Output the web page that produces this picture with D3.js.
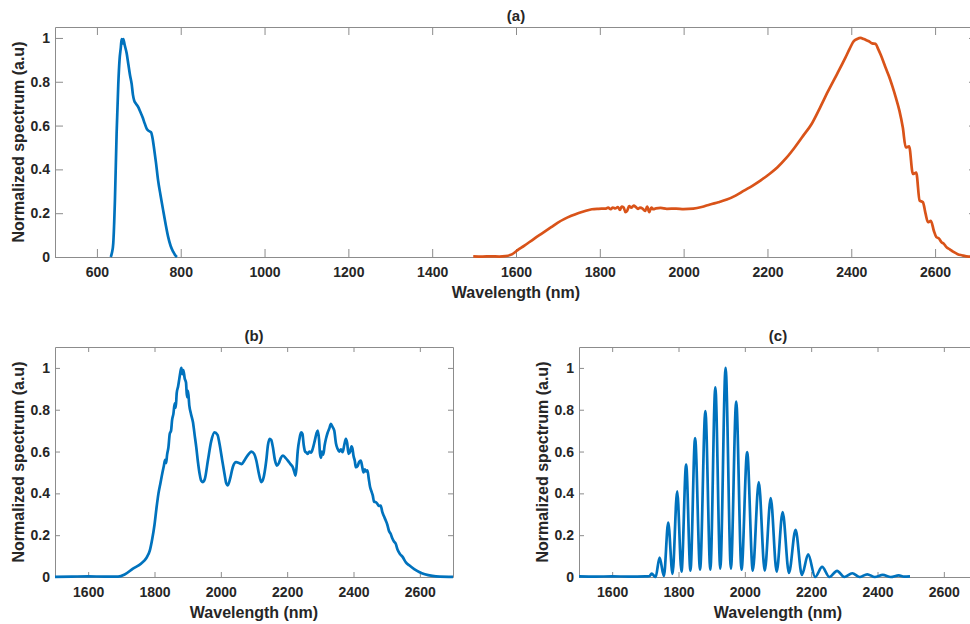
<!DOCTYPE html>
<html>
<head>
<meta charset="utf-8">
<script src="https://cdn.jsdelivr.net/npm/d3@7"></script>
<style>
  html, body { margin: 0; padding: 0; background: #fff; overflow: hidden; }
  svg { display: block; }
  text { font-family: "Liberation Sans", Arial, sans-serif; font-weight: bold; fill: #262626; }
</style>
</head>
<body>
<div id="chart"></div>
<script>
// ---- data: [wavelength nm, normalized value] ----
const pumpSpectrum = [
  [633,0],[636,0.02],[639,0.062],[643,0.259],[647,0.562],[651,0.789],[654,0.9],[657,0.956],
  [659,0.995],[661,0.975],[663,0.995],[666,0.97],[671,0.93],[675,0.88],[679,0.83],[683,0.789],
  [686,0.74],[689,0.714],[693,0.7],[699,0.683],[703,0.665],[709,0.638],[714,0.61],[719,0.585],
  [724,0.575],[729,0.57],[733,0.54],[736,0.501],[741,0.43],[746,0.35],[752,0.28],[758,0.214],
  [764,0.15],[770,0.092],[776,0.05],[782,0.024],[787,0.008],[791,0]
];

const supercontinuumA = [
  [1498,0.003],[1520,0.002],[1540,0.003],[1560,0.002],[1575,0.004],[1590,0.012],[1603,0.03],
  [1620,0.052],[1643,0.083],[1664,0.11],[1684,0.136],[1700,0.157],[1716,0.174],[1732,0.188],
  [1748,0.2],[1765,0.21],[1781,0.218],[1797,0.22],[1813,0.221],[1820,0.225],[1826,0.218],
  [1831,0.226],[1837,0.222],[1843,0.228],[1848,0.215],[1852,0.23],[1857,0.226],[1861,0.205],
  [1865,0.21],[1870,0.232],[1875,0.225],[1881,0.235],[1886,0.228],[1891,0.22],[1896,0.225],
  [1902,0.221],[1908,0.21],[1913,0.23],[1918,0.205],[1923,0.225],[1928,0.218],[1934,0.222],
  [1945,0.224],[1960,0.22],[1982,0.221],[2000,0.219],[2023,0.221],[2043,0.228],[2063,0.24],
  [2083,0.25],[2103,0.262],[2124,0.28],[2144,0.303],[2164,0.325],[2184,0.35],[2204,0.378],
  [2224,0.41],[2245,0.452],[2265,0.5],[2285,0.553],[2305,0.606],[2325,0.68],[2345,0.758],
  [2366,0.835],[2386,0.91],[2396,0.95],[2406,0.985],[2414,0.995],[2422,1.0],[2430,0.995],
  [2436,0.99],[2442,0.985],[2450,0.975],[2458,0.973],[2464,0.95],[2470,0.924],[2476,0.895],
  [2482,0.864],[2490,0.825],[2498,0.78],[2506,0.73],[2515,0.667],[2523,0.591],[2530,0.5],
  [2538,0.505],[2547,0.379],[2555,0.385],[2563,0.258],[2571,0.25],[2577,0.2],[2583,0.159],
  [2590,0.165],[2597,0.12],[2603,0.091],[2609,0.085],[2615,0.068],[2621,0.06],[2627,0.045],
  [2635,0.035],[2644,0.023],[2654,0.013],[2664,0.008],[2680,0.002],[2700,0.001]
];

const spectrumB = [
  [1500,0.001],[1550,0.002],[1600,0.003],[1650,0.002],[1690,0.002],[1710,0.012],[1735,0.04],
  [1760,0.065],[1775,0.09],[1786,0.127],[1793,0.18],[1800,0.25],[1806,0.33],[1812,0.4],
  [1818,0.45],[1824,0.5],[1828,0.53],[1832,0.56],[1835,0.545],[1838,0.585],[1842,0.62],
  [1846,0.685],[1850,0.7],[1853,0.75],[1857,0.78],[1861,0.83],[1864,0.81],[1867,0.88],
  [1871,0.91],[1875,0.95],[1878,0.98],[1881,1.0],[1884,0.97],[1887,0.99],[1891,0.95],
  [1895,0.93],[1898,0.86],[1901,0.89],[1905,0.82],[1910,0.78],[1916,0.74],[1921,0.68],
  [1926,0.62],[1931,0.55],[1936,0.494],[1941,0.46],[1946,0.454],[1952,0.47],[1961,0.557],
  [1971,0.65],[1981,0.692],[1990,0.68],[1996,0.637],[2004,0.56],[2011,0.494],[2016,0.45],
  [2021,0.438],[2028,0.47],[2036,0.525],[2046,0.549],[2055,0.545],[2063,0.54],[2070,0.555],
  [2077,0.573],[2085,0.59],[2092,0.6],[2100,0.59],[2107,0.557],[2114,0.5],[2122,0.454],
  [2128,0.47],[2137,0.557],[2142,0.63],[2147,0.661],[2152,0.655],[2157,0.62],[2163,0.56],
  [2169,0.533],[2175,0.545],[2181,0.57],[2187,0.581],[2195,0.57],[2202,0.557],[2210,0.54],
  [2217,0.525],[2222,0.5],[2225,0.485],[2228,0.52],[2232,0.605],[2237,0.66],[2242,0.692],
  [2246,0.685],[2250,0.63],[2254,0.6],[2258,0.595],[2262,0.589],[2267,0.6],[2272,0.595],
  [2277,0.613],[2283,0.65],[2288,0.685],[2292,0.7],[2296,0.66],[2299,0.59],[2302,0.57],
  [2305,0.6],[2309,0.585],[2313,0.63],[2317,0.661],[2322,0.69],[2327,0.71],[2332,0.733],
  [2336,0.72],[2342,0.7],[2347,0.64],[2352,0.613],[2357,0.6],[2362,0.61],[2367,0.597],
  [2372,0.63],[2377,0.661],[2381,0.64],[2385,0.589],[2390,0.6],[2394,0.625],[2397,0.613],
  [2400,0.58],[2404,0.555],[2407,0.525],[2412,0.53],[2417,0.55],[2422,0.557],[2426,0.53],
  [2430,0.5],[2434,0.515],[2438,0.505],[2442,0.51],[2446,0.47],[2450,0.43],[2454,0.41],
  [2458,0.39],[2462,0.36],[2467,0.358],[2472,0.35],[2477,0.34],[2482,0.342],[2487,0.31],
  [2492,0.29],[2497,0.271],[2502,0.25],[2507,0.22],[2512,0.207],[2517,0.185],[2522,0.17],
  [2527,0.16],[2533,0.13],[2540,0.11],[2548,0.096],[2558,0.07],[2568,0.056],[2583,0.038],
  [2598,0.024],[2615,0.013],[2638,0.005],[2660,0.002],[2700,0.001]
];

const spectrumC = [
  [1500,0.003],[1550,0.002],[1600,0.003],[1650,0.002],[1700,0.003],[1712,0.004],[1719,0.016],
  [1731,0.0],[1743,0.093],[1756,0.005],[1769,0.26],[1782,0.015],[1796,0.41],[1809,0.025],
  [1823,0.538],[1836,0.03],[1850,0.664],[1865,0.035],[1881,0.793],[1896,0.035],[1911,0.907],
  [1926,0.04],[1942,1.0],[1958,0.04],[1974,0.839],[1990,0.035],[2007,0.597],[2024,0.03],
  [2042,0.454],[2060,0.03],[2078,0.377],[2096,0.025],[2114,0.31],[2133,0.02],[2153,0.226],
  [2172,0.01],[2191,0.108],[2212,0.0],[2233,0.048],[2255,0.0],[2278,0.029],[2300,0.0],
  [2324,0.018],[2346,0.0],[2369,0.013],[2392,0.0],[2416,0.01],[2440,0.0],[2464,0.008],
  [2480,0.002],[2498,0.003]
];

const xTicksA = [600, 800, 1000, 1200, 1400, 1600, 1800, 2000, 2200, 2400, 2600];
const xTicksBC = [1600, 1800, 2000, 2200, 2400, 2600];
const yTicks = [0, 0.2, 0.4, 0.6, 0.8, 1];

const blue = "#0072BD";
const orange = "#D95319";
const boxColor = "#8c8c8c";

const svg = d3.select("#chart").append("svg")
  .attr("width", 970)
  .attr("height", 624);

function drawPanel(p) {
  const w = p.right - p.left;
  const h = p.bottom - p.top;
  const g = svg.append("g").attr("transform", `translate(${p.left},${p.top})`);

  const x = d3.scaleLinear().domain(p.xDomain).range([0, w]);
  const y = d3.scaleLinear().domain(p.yDomain).range([h, 0]);

  // box with inward ticks on all four sides
  g.append("g").attr("transform", `translate(0,${h})`)
    .call(d3.axisBottom(x).tickValues(p.xTicks).tickSizeInner(-p.tick).tickSizeOuter(0)
      .tickPadding(10).tickFormat(d3.format("d")));
  g.append("g")
    .call(d3.axisTop(x).tickValues(p.xTicks).tickSizeInner(-p.tick).tickSizeOuter(0).tickFormat(""));
  g.append("g")
    .call(d3.axisLeft(y).tickValues(yTicks).tickSizeInner(-p.tick).tickSizeOuter(0)
      .tickPadding(5).tickFormat(d => String(d)));
  g.append("g").attr("transform", `translate(${w},0)`)
    .call(d3.axisRight(y).tickValues(yTicks).tickSizeInner(-p.tick).tickSizeOuter(0).tickFormat(""));

  g.selectAll(".domain, .tick line").attr("stroke", boxColor).attr("stroke-width", 1);
  g.selectAll(".tick text")
    .attr("fill", "#262626")
    .style("font-size", "14px")
    .style("font-weight", "bold")
    .style("font-family", '"Liberation Sans", Arial, sans-serif');

  const line = d3.line()
    .x(d => x(d[0]))
    .y(d => y(d[1]))
    .curve(d3.curveMonotoneX);

  p.series.forEach(s => {
    g.append("path")
      .datum(s.data)
      .attr("fill", "none")
      .attr("stroke", s.color)
      .attr("stroke-width", 2.7)
      .attr("stroke-linejoin", "round")
      .attr("d", line);
  });

  g.append("text")
    .attr("x", w / 2)
    .attr("y", -6)
    .attr("text-anchor", "middle")
    .style("font-size", "15px")
    .text(p.title);

  g.append("text")
    .attr("x", w / 2)
    .attr("y", h + 41)
    .attr("text-anchor", "middle")
    .style("font-size", "16px")
    .text("Wavelength (nm)");

  g.append("text")
    .attr("transform", `translate(-31,${h / 2}) rotate(-90)`)
    .attr("text-anchor", "middle")
    .style("font-size", "16px")
    .text("Normalized spectrum (a.u)");
}

drawPanel({
  left: 55, top: 27, right: 977, bottom: 257, tick: 8,
  xDomain: [500, 2700], yDomain: [0, 1.05], xTicks: xTicksA, title: "(a)",
  series: [{ data: pumpSpectrum, color: blue }, { data: supercontinuumA, color: orange }]
});

drawPanel({
  left: 55, top: 347, right: 453, bottom: 577, tick: 5,
  xDomain: [1500, 2700], yDomain: [0, 1.1], xTicks: xTicksBC, title: "(b)",
  series: [{ data: spectrumB, color: blue }]
});

drawPanel({
  left: 579, top: 347, right: 977, bottom: 577, tick: 5,
  xDomain: [1500, 2700], yDomain: [0, 1.1], xTicks: xTicksBC, title: "(c)",
  series: [{ data: spectrumC, color: blue }]
});
</script>
</body>
</html>
